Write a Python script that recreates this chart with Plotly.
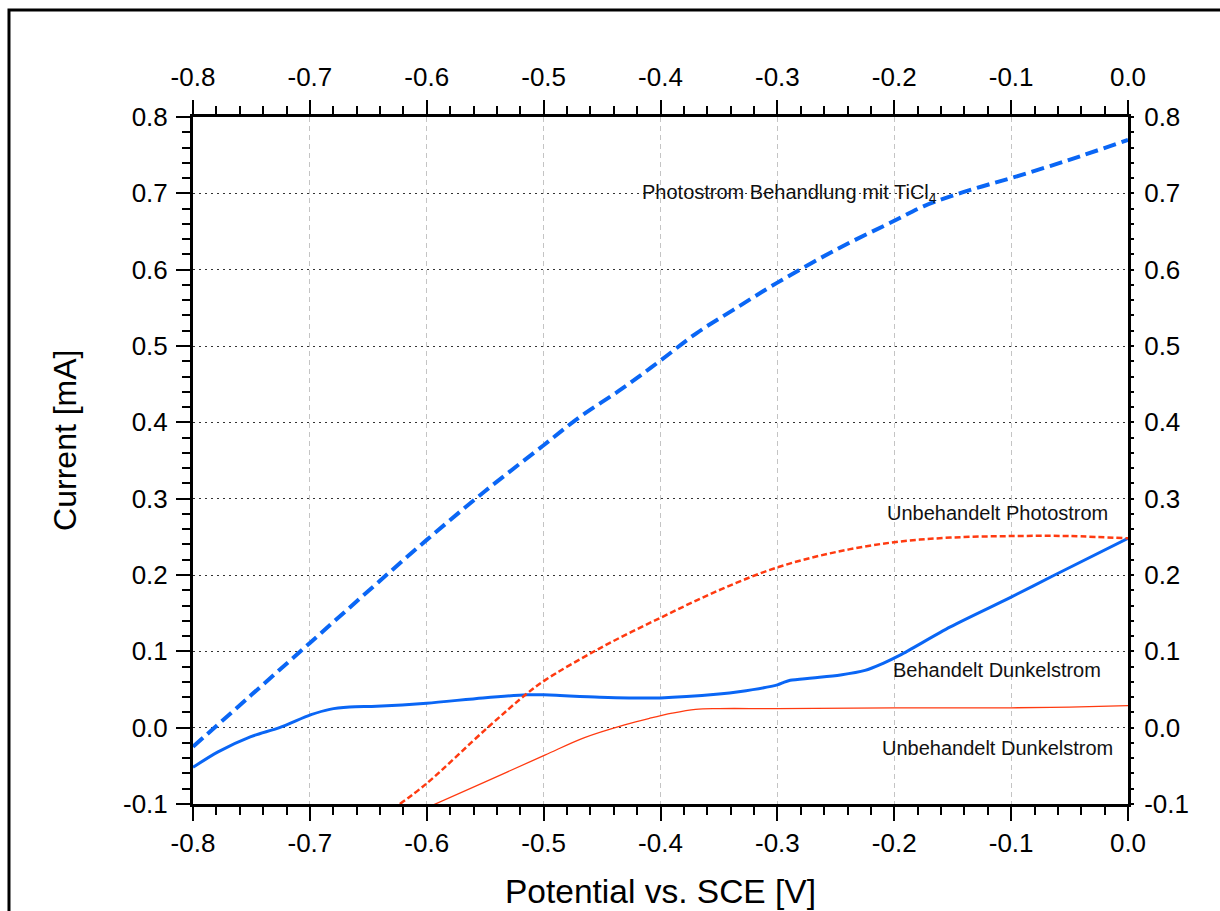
import plotly.graph_objects as go

# Potential sweeps (V vs. SCE) and measured currents (mA)
v_ticl4_photo = [-0.8, -0.75, -0.7, -0.65, -0.6, -0.55, -0.5, -0.469, -0.432,
                 -0.4, -0.369, -0.338, -0.3, -0.25, -0.2, -0.175, -0.15, -0.125, -0.1,
                 -0.052, 0.0]
i_ticl4_photo = [-0.025, 0.043, 0.111, 0.179, 0.246, 0.31, 0.37, 0.407, 0.445,
                 0.481, 0.517, 0.547, 0.583, 0.626, 0.664, 0.683, 0.697, 0.709, 0.72,
                 0.743, 0.77]

v_treated_dark = [-0.8, -0.779, -0.751, -0.726, -0.699, -0.683, -0.666, -0.643, -0.6, -0.552,
                  -0.514, -0.5, -0.452, -0.4, -0.35, -0.333, -0.3, -0.295, -0.289, -0.27,
                  -0.246, -0.225, -0.21, -0.195, -0.152, -0.1, -0.064, 0.0]
i_treated_dark = [-0.052, -0.032, -0.012, 0.0, 0.017, 0.024, 0.027, 0.028, 0.032, 0.039,
                  0.043, 0.043, 0.040, 0.039, 0.044, 0.047, 0.056, 0.059, 0.062, 0.065,
                  0.069, 0.075, 0.084, 0.095, 0.132, 0.171, 0.199, 0.248]

v_untreated_photo = [-0.623, -0.6, -0.548, -0.514, -0.499, -0.452, -0.4, -0.35, -0.3,
                     -0.25, -0.2, -0.152, -0.1, -0.05, 0.0]
i_untreated_photo = [-0.1, -0.073, 0.0, 0.045, 0.062, 0.104, 0.144, 0.18, 0.21,
                     0.23, 0.243, 0.249, 0.251, 0.251, 0.248]

v_untreated_dark = [-0.6, -0.55, -0.499, -0.465, -0.43, -0.41, -0.39, -0.37, -0.35, -0.3,
                    -0.2, -0.1, -0.05, 0.0]
i_untreated_dark = [-0.105, -0.071, -0.036, -0.013, 0.004, 0.012, 0.019, 0.024, 0.025, 0.025,
                    0.026, 0.026, 0.027, 0.029]

x_tick_vals = [-0.8, -0.7, -0.6, -0.5, -0.4, -0.3, -0.2, -0.1, 0.0]
x_tick_text = ["-0.8", "-0.7", "-0.6", "-0.5", "-0.4", "-0.3", "-0.2", "-0.1", "0.0"]
y_tick_vals = [-0.1, 0.0, 0.1, 0.2, 0.3, 0.4, 0.5, 0.6, 0.7, 0.8]
y_tick_text = ["-0.1", "0.0", "0.1", "0.2", "0.3", "0.4", "0.5", "0.6", "0.7", "0.8"]

X_RANGE = [-0.8, 0.0]
Y_RANGE = [-0.1, 0.8]

BLUE = "#0a66f5"
RED = "#ff3a10"
FONT = "Liberation Sans, Arial, Helvetica, sans-serif"

fig = go.Figure()

fig.add_trace(go.Scatter(x=v_ticl4_photo, y=i_ticl4_photo, mode="lines", line_shape="spline",
                         line=dict(color=BLUE, width=4, dash="13px,6px"), showlegend=False))
fig.add_trace(go.Scatter(x=v_treated_dark, y=i_treated_dark, mode="lines", line_shape="spline",
                         line=dict(color=BLUE, width=3, smoothing=0.8), showlegend=False))
fig.add_trace(go.Scatter(x=v_untreated_photo, y=i_untreated_photo, mode="lines", line_shape="spline",
                         line=dict(color=RED, width=2.5, dash="6px,3px"), showlegend=False))
fig.add_trace(go.Scatter(x=v_untreated_dark, y=i_untreated_dark, mode="lines", line_shape="spline",
                         line=dict(color=RED, width=1.3), showlegend=False))
# carrier trace so the mirrored top/right axes are drawn
fig.add_trace(go.Scatter(x=X_RANGE, y=Y_RANGE, xaxis="x2", yaxis="y2", mode="lines",
                         line=dict(width=0), opacity=0, hoverinfo="skip", showlegend=False))

tick_font = dict(family=FONT, size=26, color="black")
common_x = dict(range=X_RANGE, tickmode="array", tickvals=x_tick_vals, ticktext=x_tick_text,
                showline=True, linewidth=3, linecolor="black", ticks="outside", ticklen=14,
                tickwidth=2, tickcolor="black", tickfont=tick_font, zeroline=False,
                automargin=False,
                minor=dict(tickmode="linear", tick0=-0.8, dtick=0.02, ticks="outside",
                           ticklen=8, tickwidth=2, tickcolor="black", showgrid=False))

fig.update_layout(
    width=1220, height=911,
    margin=dict(l=193, r=92, t=117, b=107, autoexpand=False),
    paper_bgcolor="white", plot_bgcolor="white",
    font=dict(family=FONT, color="black"),
    xaxis=dict(**common_x, side="bottom", showgrid=True, gridcolor="#c4c4c4",
               gridwidth=1, griddash="5px,4px", ticklabelstandoff=0),
    xaxis2=dict(**common_x, side="top", overlaying="x", showgrid=False, ticklabelstandoff=4),
    yaxis=dict(range=Y_RANGE, tickmode="array", tickvals=y_tick_vals, ticktext=y_tick_text,
               showline=True, linewidth=3, linecolor="black", ticks="outside", ticklen=14,
               tickwidth=2, tickcolor="black", tickfont=tick_font, zeroline=False,
               automargin=False, showgrid=True, gridcolor="#333333", gridwidth=1.2,
               griddash="2px,4px", ticklabelstandoff=3,
               minor=dict(tickmode="linear", tick0=-0.1, dtick=0.02, ticks="outside",
                          ticklen=8, tickwidth=2, tickcolor="black", showgrid=False)),
    yaxis2=dict(range=Y_RANGE, tickmode="array", tickvals=y_tick_vals, ticktext=y_tick_text,
                overlaying="y", side="right", showline=True, linewidth=3, linecolor="black",
                ticks="outside", ticklen=3, tickwidth=2, tickcolor="black", tickfont=tick_font,
                zeroline=False, showgrid=False, automargin=False, ticklabelstandoff=5,
                minor=dict(tickmode="linear", tick0=-0.1, dtick=0.02, ticks="outside",
                           ticklen=3, tickwidth=2, tickcolor="black", showgrid=False)),
)

label_font = dict(family=FONT, size=20, color="#111111")
curve_labels = [
    ("Photostrom Behandlung mit TiCl<sub>4</sub>", -0.29, 0.70),
    ("Unbehandelt Photostrom", -0.112, 0.281),
    ("Behandelt Dunkelstrom", -0.112, 0.0756),
    ("Unbehandelt Dunkelstrom", -0.112, -0.0266),
]
for text, xv, yv in curve_labels:
    fig.add_annotation(x=xv, y=yv, xref="x", yref="y", text=text, showarrow=False,
                       font=label_font, xanchor="center", yanchor="middle")

# axis titles
fig.add_annotation(x=0.5, y=-0.128, xref="paper", yref="paper", text="Potential vs. SCE [V]",
                   showarrow=False, font=dict(family=FONT, size=33.5, color="black"),
                   xanchor="center", yanchor="middle")
fig.add_annotation(x=-0.1369, y=0.53, xref="paper", yref="paper", text="Current [mA]",
                   textangle=-90, showarrow=False, font=dict(family=FONT, size=32, color="black"),
                   xanchor="center", yanchor="middle")

# outer frame
fig.add_shape(type="rect", xref="paper", yref="paper", x0=-0.1968, y0=-0.2, x1=1.12, y1=1.1557,
              line=dict(color="black", width=3), fillcolor="rgba(0,0,0,0)", layer="below")

fig.write_html("out.html")
